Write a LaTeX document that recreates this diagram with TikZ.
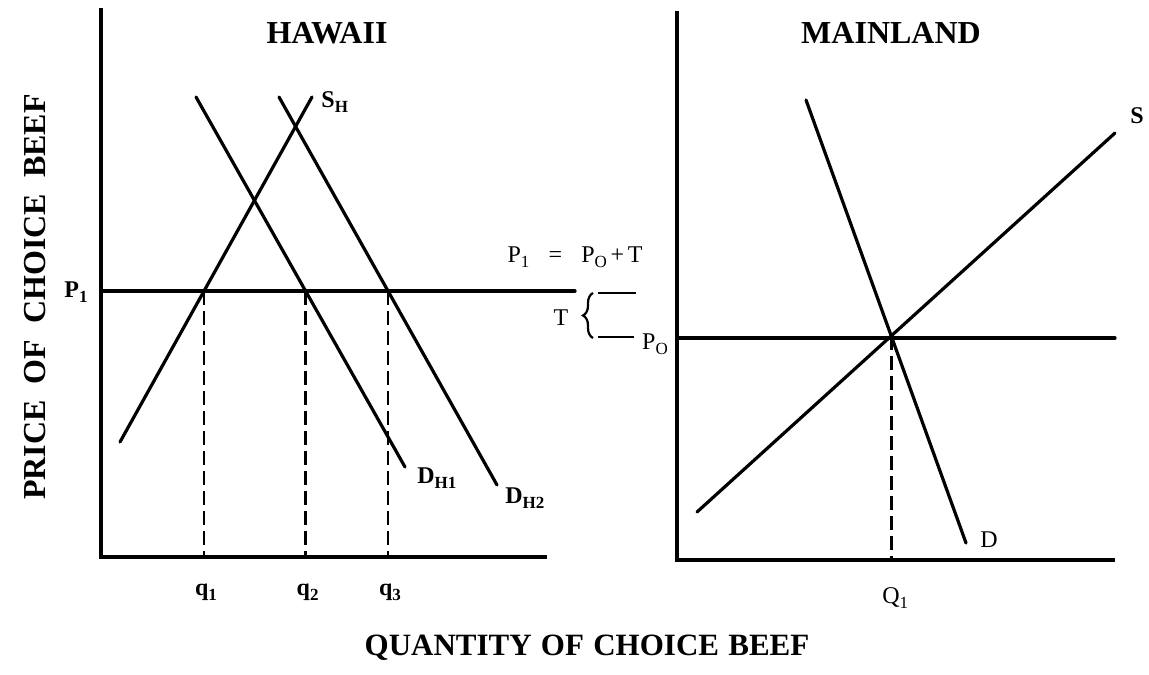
\documentclass[tikz,border=0pt]{standalone}
\usepackage{fontspec}
\setmainfont{Liberation Serif}
\usetikzlibrary{positioning,calc,decorations.pathreplacing}

\newcommand{\lowsub}[1]{\raisebox{-0.45ex}{\fontsize{8.5}{9}\selectfont #1}}

\begin{document}
\begin{tikzpicture}[
    x=0.5pt, y=-0.5pt,
    axis/.style={line width=1.7pt, line cap=rect},
    curve/.style={line width=1.6pt, line cap=round},
    guide/.style={line width=1.4pt, dash pattern=on 7pt off 3pt},
    tick/.style={line width=1.3pt},
    panel/.style={font=\fontsize{16}{19}\selectfont\bfseries},
    axlabel/.style={font=\fontsize{16}{19}\selectfont\bfseries},
    tag/.style={font=\fontsize{12}{14}\selectfont\bfseries, inner sep=1pt},
    plain/.style={font=\fontsize{12}{14}\selectfont, inner sep=1pt}
]
\useasboundingbox (0,0) rectangle (1149,674);

% Hawaii panel
\coordinate (hTop) at (101,10);
\coordinate (hO) at (101,557);
\coordinate (hEnd) at (545,557);
\coordinate (pOneL) at (101,291);
\coordinate (pOneR) at (575,291);
\coordinate (shLo) at (120,442);
\coordinate (shHi) at (312,97);
\coordinate (dOneHi) at (196,97);
\coordinate (dOneLo) at (405,467);
\coordinate (dTwoHi) at (279,97);
\coordinate (dTwoLo) at (497,485);

\draw[axis] (hTop) -- (hO) -- (hEnd);
\draw[curve] (pOneL) -- (pOneR);
\draw[curve] (shLo) -- (shHi);
\draw[curve] (dOneHi) -- (dOneLo);
\draw[curve] (dTwoHi) -- (dTwoLo);

\coordinate (qOne) at (intersection of shLo--shHi and pOneL--pOneR);
\coordinate (qTwo) at (intersection of dOneHi--dOneLo and pOneL--pOneR);
\coordinate (qThree) at (intersection of dTwoHi--dTwoLo and pOneL--pOneR);
\foreach \q in {qOne,qTwo,qThree}
  \draw[guide] (\q) -- (\q |- hO);

\node[panel] (hawaii) at (327,33) {HAWAII};
\node[tag] (pOneLbl) at (76,292) {P\lowsub{1}};
\node[tag, anchor=west] (shLbl) at (319,102) {S\lowsub{H}};
\node[tag, anchor=west] (dOneLbl) at (415,478) {D\lowsub{H1}};
\node[tag, anchor=west] (dTwoLbl) at (503,498) {D\lowsub{H2}};
\node[tag] (qOneLbl) at ($(qOne |- hO)+(2,35)$) {q\lowsub{1}};
\node[tag] (qTwoLbl) at ($(qTwo |- hO)+(2,35)$) {q\lowsub{2}};
\node[tag] (qThreeLbl) at ($(qThree |- hO)+(2,35)$) {q\lowsub{3}};

% tariff gap between the panels
\node[plain] (rule) at (575,257) {P\lowsub{1}\hspace{0.8em}=\hspace{0.8em}P\lowsub{O}\hspace{0.15em}+\hspace{0.15em}T};
\coordinate (brTop) at (593,293);
\coordinate (brBot) at (593,338);
\draw[line width=1.1pt, decorate, decoration={brace, amplitude=5pt}] (brBot) -- (brTop);
\draw[tick] (598,293) -- (636,293);
\draw[tick] (598,337) -- (634,337);
\node[plain] (tLbl) at (561,318) {T};

% Mainland panel
\coordinate (mTop) at (677,13);
\coordinate (mO) at (677,560);
\coordinate (mEnd) at (1113,560);
\coordinate (pZeroL) at (677,338);
\coordinate (pZeroR) at (1115,338);
\coordinate (sLo) at (697,512);
\coordinate (sHi) at (1115,133);
\coordinate (dHi) at (806,100);
\coordinate (dLo) at (966,543);

\draw[axis] (mTop) -- (mO) -- (mEnd);
\draw[curve] (pZeroL) -- (pZeroR);
\draw[curve] (sLo) -- (sHi);
\draw[curve] (dHi) -- (dLo);

\coordinate (eq) at (intersection of sLo--sHi and dHi--dLo);
\draw[guide] (eq) -- (eq |- mO);

\node[panel] (mainland) at (891,33) {MAINLAND};
\node[plain] (pZeroLbl) at (655,344) {P\lowsub{O}};
\node[tag] (sLbl) at (1137,116) {S};
\node[plain] (dLbl) at (989,540) {D};
\node[plain] (qLbl) at ($(eq |- mO)+(4,38)$) {Q\lowsub{1}};

% axis titles
\node[axlabel, rotate=90] (price) at (35,297) {PRICE\hspace{0.5em}OF\hspace{0.5em}CHOICE\hspace{0.5em}BEEF};
\node[axlabel, font=\fontsize{15.5}{18}\selectfont\bfseries] (quantity) at (587,648) {QUANTITY\hspace{0.3em}OF\hspace{0.3em}CHOICE\hspace{0.3em}BEEF};
\end{tikzpicture}
\end{document}
